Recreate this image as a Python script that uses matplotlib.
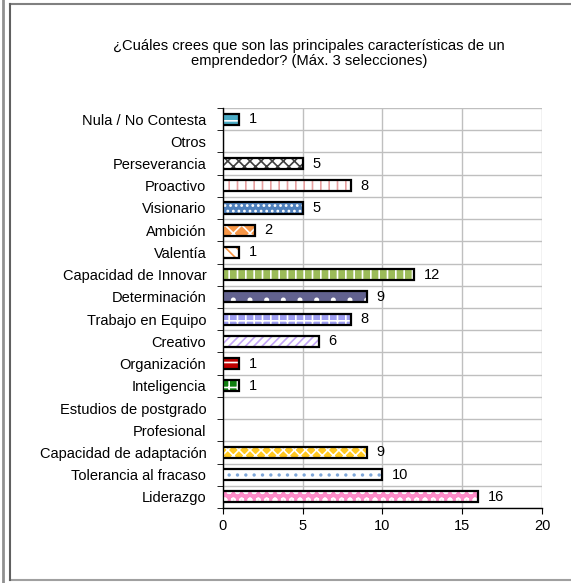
import matplotlib.pyplot as plt
import numpy as np
from matplotlib.lines import Line2D

plt.rcParams['font.family'] = ['Liberation Sans', 'DejaVu Sans']

categorias = ['Nula / No Contesta', 'Otros', 'Perseverancia', 'Proactivo', 'Visionario',
              'Ambición', 'Valentía', 'Capacidad de Innovar', 'Determinación',
              'Trabajo en Equipo', 'Creativo', 'Organización', 'Inteligencia',
              'Estudios de postgrado', 'Profesional', 'Capacidad de adaptación',
              'Tolerancia al fracaso', 'Liderazgo']
valores = [1, 0, 5, 8, 5, 2, 1, 12, 9, 8, 6, 1, 1, 0, 0, 9, 10, 16]

# (relleno, color de la trama, trama)
estilos = [
    ('#4BACC6', 'white', '--'),
    ('white', 'white', ''),
    ('white', '#404040', 'xxx'),
    ('white', '#E8A0A0', '||'),
    ('#4F81BD', 'white', '...'),
    ('#F79646', 'white', 'xx'),
    ('white', '#F79646', '\\\\\\'),
    ('#9BBB59', 'white', '||'),
    ('#62628F', 'white', '.'),
    ('#9D9DF0', 'white', '++'),
    ('white', '#C3A5F5', '////'),
    ('#C00000', 'white', '--'),
    ('#108010', 'white', '++'),
    ('white', 'white', ''),
    ('white', 'white', ''),
    ('#FFC820', 'white', 'xxx'),
    ('white', '#7FA8DA', '..'),
    ('#FF8CC8', 'white', 'oo'),
]

fig = plt.figure(figsize=(5.71, 5.83), dpi=100)
ax = fig.add_axes([0.3905, 0.1286, 0.5587, 0.6862])

y = np.arange(len(categorias))
plt.rcParams['hatch.linewidth'] = 1.2
for i, (v, (fc, hc, h)) in enumerate(zip(valores, estilos)):
    if v == 0:
        continue
    ax.barh(y[i], v, height=0.5, color=fc, edgecolor=hc, hatch=h, linewidth=0, zorder=3)
    ax.barh(y[i], v, height=0.5, fill=False, edgecolor='black', linewidth=1.6, zorder=4)
    ax.annotate(str(v), (v, y[i]), xytext=(7, 0), textcoords='offset points',
                va='center', ha='left', fontsize=10.5)

ax.set_ylim(len(categorias) - 0.5, -0.5)
ax.set_xlim(0, 20)
ax.set_yticks(y)
ax.set_yticklabels(categorias, fontsize=10.5)
ax.set_yticks(np.arange(-0.5, len(categorias), 1), minor=True)
ax.tick_params(axis='y', which='major', length=0, pad=12)
ax.tick_params(axis='y', which='minor', length=4, direction='out')
ax.set_xticks([0, 5, 10, 15, 20])
ax.tick_params(axis='x', length=4, direction='out', labelsize=10.5, pad=4)

ax.grid(axis='y', which='minor', color='#BFBFBF', linewidth=1, zorder=0)
ax.grid(axis='x', which='major', color='#BFBFBF', linewidth=1, zorder=0)
for s in ['top', 'right']:
    ax.spines[s].set_visible(False)
for s in ['left', 'bottom']:
    ax.spines[s].set_color('black')
    ax.spines[s].set_linewidth(1)

fig.text(0.541, 0.909, '¿Cuáles crees que son las principales características de un\nemprendedor? (Máx. 3 selecciones)',
         ha='center', va='center', fontsize=10.6, linespacing=1.1)

# marco exterior
fig.add_artist(Line2D([0.0175, 1.0], [0.993, 0.993], color='#808080', linewidth=1.5))
fig.add_artist(Line2D([0.0175, 1.0], [0.005, 0.005], color='#A0A0A0', linewidth=1.5))
fig.add_artist(Line2D([0.0175, 0.0175], [0.005, 0.993], color='#606060', linewidth=1.5))
fig.add_artist(Line2D([0.006, 0.006], [0.0, 1.0], color='#909090', linewidth=2))

fig.savefig('out.png', dpi=100)
